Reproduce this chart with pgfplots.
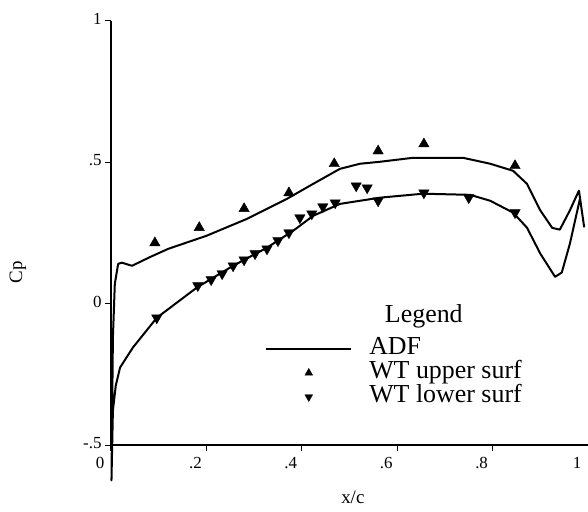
\documentclass[border=0pt]{standalone}
\usepackage{fontspec}
\setmainfont{Liberation Serif}
\usepackage{pgfplots}
\pgfplotsset{compat=1.18}
\pgfplotsset{
  lineleg/.style={legend image code/.code={\draw[##1] (0bp,0bp) -- (85bp,0bp);}},
  markleg/.style={legend image code/.code={\draw[##1, mark size=4.5bp] plot coordinates {(42.5bp,0bp)};}},
}
\begin{document}
\begin{tikzpicture}
\useasboundingbox (-111bp,-67bp) rectangle (477bp,445bp);
\begin{axis}[
  at={(0,0)}, anchor=south west,
  scale only axis, width=477bp, height=424bp,
  xmin=0, xmax=1, ymin=-0.5, ymax=1,
  axis x line*=bottom, axis y line*=left,
  clip=false,
  x axis line style={line width=1.8bp, black},
  y axis line style={line width=2.4bp, black},
  tick style={line width=1bp, black},
  tick align=outside, major tick length=6bp,
  xtick={0,0.2,0.4,0.6,0.8,1}, xticklabels={0,.2,.4,.6,.8,1},
  ytick={-0.5,0,0.5,1}, yticklabels={-.5,0,.5,1},
  /pgf/number format/assume math mode=true,
  xticklabel style={font=\fontsize{17}{17}\selectfont, xshift=-11bp, yshift=-3bp},
  yticklabel style={font=\fontsize{17}{17}\selectfont, yshift=2bp},
  xlabel={x/c},
  xlabel style={at={(axis description cs:0.507,-0.123)}, anchor=center, font=\fontsize{19}{19}\selectfont},
  ylabel={Cp},
  ylabel style={at={(axis description cs:-0.195,0.407)}, anchor=center, font=\fontsize{19}{19}\selectfont},
  legend style={draw=none, fill=none, at={(axis cs:0.323,-0.118)}, anchor=north west,
    inner sep=0pt, font=\fontsize{26}{26}\selectfont,
    nodes={inner sep=0pt, text height=17.5bp, text depth=6bp},
    row sep=0.5bp},
  legend cell align=left,
  /tikz/every odd column/.append style={column sep=17bp},
]
\addplot[black, line width=2bp, line join=round, lineleg] coordinates {
(0.992,0.27) (0.981,0.40) (0.962,0.33) (0.941,0.262) (0.925,0.268) (0.9,0.33)
(0.872,0.424) (0.843,0.47) (0.795,0.495) (0.738,0.516) (0.633,0.516) (0.564,0.502)
(0.522,0.495) (0.48,0.477) (0.424,0.424) (0.369,0.371) (0.285,0.30) (0.2,0.24)
(0.12,0.194) (0.082,0.165) (0.044,0.134) (0.023,0.145) (0.015,0.141) (0.008,0.07)
(0.004,-0.12) (0.001,-0.625)
(0.004,-0.378) (0.01,-0.29) (0.019,-0.226) (0.046,-0.155) (0.096,-0.05) (0.18,0.057)
(0.256,0.134) (0.327,0.198) (0.382,0.258) (0.424,0.311) (0.48,0.353) (0.564,0.375)
(0.654,0.389) (0.753,0.385) (0.795,0.364) (0.843,0.322) (0.872,0.269) (0.9,0.177)
(0.931,0.095) (0.945,0.11) (0.962,0.212) (0.983,0.37)
};
\addlegendentry{ADF}
\addplot[black, only marks, mark=triangle*, mark size=6bp, markleg] coordinates {
(0.092,0.215) (0.185,0.269) (0.279,0.336) (0.373,0.392) (0.468,0.495) (0.56,0.54)
(0.656,0.565) (0.847,0.488)
};
\addlegendentry{WT upper surf}
\addplot[black, only marks, mark=triangle*, mark size=6bp, mark options={rotate=180}, markleg] coordinates {
(0.096,-0.05) (0.182,0.064) (0.21,0.085) (0.233,0.106) (0.256,0.134) (0.279,0.155)
(0.302,0.177) (0.327,0.194) (0.35,0.223) (0.373,0.251) (0.396,0.304) (0.421,0.318)
(0.444,0.343) (0.47,0.357) (0.514,0.417) (0.537,0.41) (0.56,0.364) (0.656,0.392)
(0.75,0.375) (0.847,0.322)
};
\addlegendentry{WT lower surf}
\node[anchor=base west, font=\fontsize{26}{26}\selectfont, inner sep=0pt] at (axis cs:0.574,-0.067) {Legend};
\end{axis}
\end{tikzpicture}
\end{document}
